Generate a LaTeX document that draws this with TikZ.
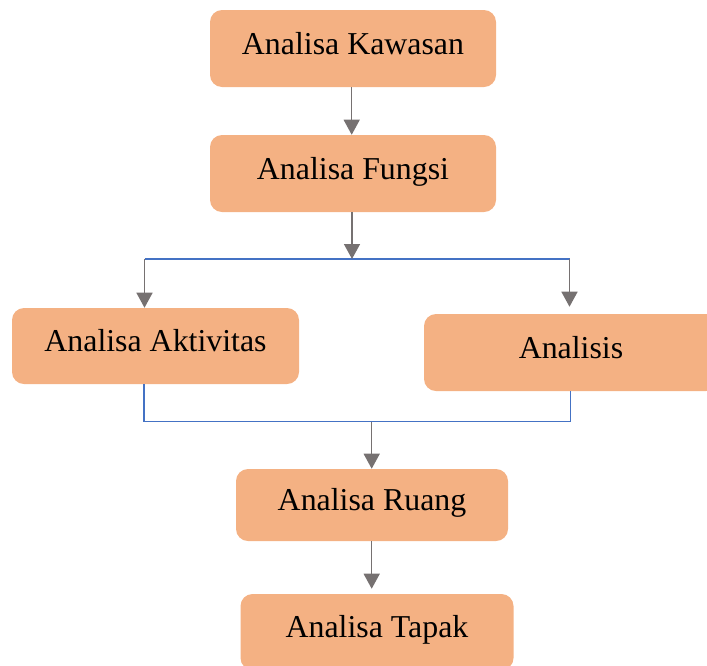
\documentclass[tikz,border=0pt]{standalone}
\usepackage{fontspec}
\setmainfont{Liberation Serif}
\usetikzlibrary{arrows.meta,calc}
\definecolor{boxfill}{HTML}{F4B183}
\definecolor{flowgray}{HTML}{767171}
\definecolor{linkblue}{HTML}{4472C4}
\tikzset{
  stepbox/.style={fill=boxfill, rounded corners=9pt, inner sep=0pt,
    text height=16.8pt, text depth=8.4pt, font=\fontsize{23.9}{28}\selectfont},
  flow/.style={draw=flowgray, line width=1.1pt, -{Triangle[length=11.25pt,width=12pt]}},
  link/.style={draw=linkblue, line width=0.9pt},
}
\begin{document}
\begin{tikzpicture}[x=0.75pt,y=-0.75pt]
\useasboundingbox (0,0) rectangle (707,665);
\clip (0,0) rectangle (707,665);

% analysis steps
\node[stepbox, minimum width=214.5pt, minimum height=57.75pt] (kawasan) at (353,48.5) {Analisa Kawasan};
\node[stepbox, minimum width=214.5pt, minimum height=57.75pt] (fungsi) at (353,173.5) {Analisa Fungsi};
\node[stepbox, minimum width=215.25pt, minimum height=57pt] (aktivitas) at (155.5,346) {Analisa Aktivitas};
\node[stepbox, minimum width=220.5pt, minimum height=57.75pt] (analisis) at (571,352.5) {Analisis};
\node[stepbox, minimum width=204pt, minimum height=54pt] (ruang) at (372,505) {Analisa Ruang};
\node[stepbox, minimum width=204.75pt, minimum height=57pt] (tapak) at (377,632) {Analisa Tapak};

% branch points
\coordinate (split) at (352,259);
\coordinate (splitL) at (144.5,259);
\coordinate (splitR) at (569.5,259);
\coordinate (mergeL) at (144,421.7);
\coordinate (mergeR) at (570.7,421.7);
\coordinate (merge) at (371.7,421.7);

% connectors
\draw[flow] ($(kawasan.south)+(-1.3,0)$) -- ($(fungsi.north)+(-1.3,0)$);
\draw[link] (splitL) -- (splitR);
\draw[flow] (split |- fungsi.south) -- (split);
\draw[flow] (splitL) -- (splitL |- aktivitas.north);
\draw[flow] (splitR) -- ($(splitR |- analisis.north)+(0,-7)$);
\draw[link] (mergeL |- aktivitas.south) -- (mergeL) -- (mergeR) -- (mergeR |- analisis.south);
\draw[flow] (merge) -- (merge |- ruang.north);
\draw[flow] (merge |- ruang.south) -- ($(merge |- tapak.north)+(0,-5)$);
\end{tikzpicture}
\end{document}
